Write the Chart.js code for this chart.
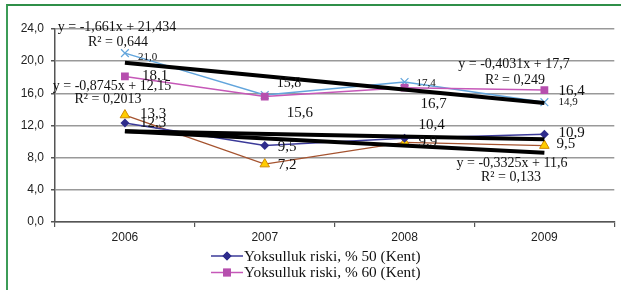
<!DOCTYPE html>
<html>
<head>
<meta charset="utf-8">
<script src="https://cdn.jsdelivr.net/npm/chart.js@4/dist/chart.umd.min.js"></script>
<style>
  html, body { margin: 0; padding: 0; background: #fff; }
  #wrap { position: relative; width: 621px; height: 290px; overflow: hidden; }
  #frame { position: absolute; left: 6px; top: 4px; width: 640px; height: 300px;
           border-left: 2px solid #3c9c57; border-top: 2px solid #2f8f48; box-sizing: border-box; }
  canvas { position: absolute; left: 0; top: 0; }
</style>
</head>
<body>
<div id="wrap">
  <div id="frame"></div>
  <canvas id="c" width="621" height="290"></canvas>
</div>
<script>
// ---- data ----
const years = ['2006', '2007', '2008', '2009'];
const risk50Kent = [12.3, 9.5, 10.4, 10.9];
const risk60Kent = [18.1, 15.6, 16.7, 16.4];
const seriesBlue = [21.0, 15.8, 17.4, 14.9];
const seriesBrown = [13.3, 7.2, 9.9, 9.5];
const trendBlue = [19.8, null, null, 14.8];
const trendNavy = [11.3, null, null, 10.3];
const trendBrown = [11.3, null, null, 8.6];
const yTicks = [0, 4, 8, 12, 16, 20, 24];
const legendNames = ['Yoksulluk riski, % 50 (Kent)', 'Yoksulluk riski, % 60 (Kent)'];
const equations = [
  'y = -1,661x + 21,434', 'R² = 0,644',
  'y = -0,8745x + 12,15', 'R² = 0,2013',
  'y = -0,4031x + 17,7', 'R² = 0,249',
  'y = -0,3325x + 11,6', 'R² = 0,133'
];

// ---- styling / placement ----
const eqPos = [[117, 27], [118, 42], [112, 86], [108, 99], [514, 64], [515, 80], [512, 163], [511, 177]];
// label offsets (dx, dy, fontSize) per data series, per point
const labelStyle = [
  [[15, 0, 15], [13, 1, 15], [14, -13, 15], [14, -1, 15]],   // navy
  [[17, 0, 15], [22, 17, 15], [16, 16, 15], [14, 1, 15]],    // magenta
  [[13, 4, 11], [12, -12, 14], [12, 1, 11], [14, 0, 11]],    // blue
  [[15, -1, 15], [13, 1, 15], [14, 0, 15], [12, -2, 15]]     // brown
];
const fmt = v => v.toFixed(1).replace('.', ',');

const labelsPlugin = {
  id: 'labelsPlugin',
  afterDatasetsDraw(chart) {
    const ctx = chart.ctx;
    ctx.save();
    ctx.fillStyle = '#111';
    ctx.textBaseline = 'middle';
    ctx.textAlign = 'left';
    for (let d = 0; d < 4; d++) {
      const meta = chart.getDatasetMeta(d);
      const data = chart.data.datasets[d].data;
      meta.data.forEach((pt, i) => {
        const [dx, dy, fs] = labelStyle[d][i];
        ctx.font = fs + 'px "Liberation Serif", "Times New Roman", serif';
        ctx.fillText(fmt(data[i]), pt.x + dx, pt.y + dy);
      });
    }
    ctx.textAlign = 'center';
    ctx.font = '14px "Liberation Serif", "Times New Roman", serif';
    equations.forEach((t, i) => ctx.fillText(t, eqPos[i][0], eqPos[i][1]));

    // legend
    const items = [
      { style: 'rectRot', color: '#2e2c8c', line: '#3b3a99', r: 4.5 },
      { style: 'rect', color: '#b64fae', line: '#c658b8', r: 5.5 }
    ];
    ctx.textAlign = 'left';
    items.forEach((it, i) => {
      const y = 256 + i * 16.5;
      ctx.strokeStyle = it.line;
      ctx.lineWidth = 1.5;
      ctx.beginPath(); ctx.moveTo(211, y); ctx.lineTo(243, y); ctx.stroke();
      ctx.fillStyle = it.color;
      Chart.helpers.drawPoint(ctx, { pointStyle: it.style, radius: it.r, borderWidth: 0 }, 227, y);
      ctx.fill();
      ctx.fillStyle = '#111';
      ctx.font = '15.3px "Liberation Serif", "Times New Roman", serif';
      ctx.fillText(legendNames[i], 244, y + 0.5);
    });
    ctx.restore();
  }
};

new Chart(document.getElementById('c'), {
  type: 'line',
  data: {
    labels: years,
    datasets: [
      { label: legendNames[0], data: risk50Kent, borderColor: '#3b3a99', backgroundColor: '#2e2c8c',
        borderWidth: 1.5, pointStyle: 'rectRot', pointRadius: 4.5, pointBorderWidth: 0, order: 2 },
      { label: legendNames[1], data: risk60Kent, borderColor: '#c658b8', backgroundColor: '#b64fae',
        borderWidth: 1.5, pointStyle: 'rect', pointRadius: 5.5, pointBorderWidth: 0, order: 2 },
      { label: 'blue', data: seriesBlue, borderColor: '#62a5dc', backgroundColor: '#62a5dc',
        borderWidth: 1.5, pointStyle: 'crossRot', pointRadius: 5.5, pointBorderColor: '#62a5dc', pointBorderWidth: 1.2, order: 2 },
      { label: 'brown', data: seriesBrown, borderColor: '#a5532f', backgroundColor: '#ffcc00',
        borderWidth: 1.3, pointStyle: 'triangle', pointRadius: 5.5, pointBorderColor: '#d08a00', pointBorderWidth: 1, order: 2 },
      { label: 't1', data: trendBlue, borderColor: '#000', borderWidth: 4, pointRadius: 0, spanGaps: true, order: 1 },
      { label: 't2', data: trendNavy, borderColor: '#000', borderWidth: 4, pointRadius: 0, spanGaps: true, order: 1 },
      { label: 't3', data: trendBrown, borderColor: '#000', borderWidth: 4, pointRadius: 0, spanGaps: true, order: 1 }
    ]
  },
  options: {
    responsive: false,
    animation: false,
    events: [],
    layout: { padding: { left: 0, right: 5, top: 29, bottom: 44 } },
    plugins: { legend: { display: false }, tooltip: { enabled: false } },
    elements: { line: { tension: 0 } },
    scales: {
      x: {
        offset: true,
        grid: { offset: true, drawOnChartArea: false, drawTicks: true, tickLength: 5, color: '#555', lineWidth: 1.2 },
        border: { color: '#555', width: 1.5 },
        ticks: { color: '#222', padding: 3, font: { family: '"Liberation Sans", Arial, sans-serif', size: 12 } },
        afterFit(s) { s.height = 24; }
      },
      y: {
        min: 0, max: 24,
        afterBuildTicks(s) { s.ticks = yTicks.map(v => ({ value: v })); },
        grid: { color: '#999', lineWidth: 1.5, tickLength: 4, tickColor: '#555' },
        border: { color: '#555', width: 1.5 },
        ticks: { color: '#222', padding: 7, callback: v => fmt(v),
                 font: { family: '"Liberation Sans", Arial, sans-serif', size: 12 } },
        afterFit(s) { s.width = 55; }
      }
    }
  },
  plugins: [labelsPlugin]
});
</script>
</body>
</html>
